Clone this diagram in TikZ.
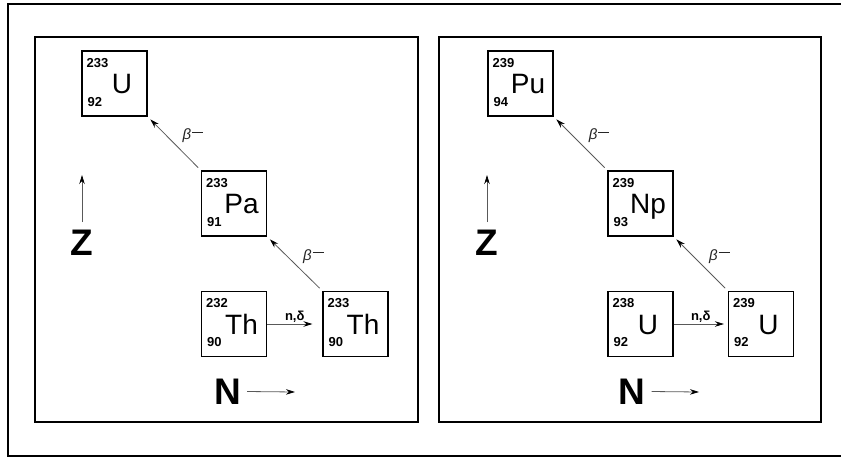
\documentclass[tikz,border=0pt]{standalone}
\usepackage{fontspec}
\setmainfont{Liberation Sans}
\usetikzlibrary{arrows.meta}
\newcommand{\nucl}[6]{% name, x, y, A, Z, symbol
  \node[nbox] (#1) at (#2,#3) {};
  \node[numtxt] (#1-a) at ([xshift=5pt,yshift=-17pt]#1.north west) {#4};
  \node[numtxt] (#1-z) at ([xshift=6pt,yshift=-56pt]#1.north west) {#5};
  \node[symtxt] (#1-s) at ([xshift=7.5pt,yshift=-43.5pt]#1.north) {#6};
}
\newcommand{\betaminus}{{\itshape β}\hspace{1pt}\rule[7pt]{11pt}{1.3pt}}
\begin{document}
\begin{tikzpicture}[x=1pt,y=-1pt,
  nbox/.style={draw, line width=1.1pt, minimum size=65pt, inner sep=0pt},
  numtxt/.style={anchor=base west, inner sep=0pt, font=\bfseries\fontsize{13}{13}\selectfont},
  symtxt/.style={anchor=base, inner sep=0pt, font=\fontsize{28}{28}\selectfont},
  arr/.style={line width=0.8pt, draw=black!65, -{Stealth[length=9pt,width=5.5pt,color=black]}},
  panel/.style={draw, line width=1.2pt},
  axlbl/.style={font=\bfseries\fontsize{37}{37}\selectfont, inner sep=0pt},
  reac/.style={font=\bfseries\fontsize{13}{13}\selectfont, inner sep=1.5pt},
  beta/.style={font=\fontsize{15}{15}\selectfont, inner sep=0pt, text=black!85}]
\useasboundingbox (0,0) rectangle (841,459);
\clip (0,0) rectangle (841,459);
\draw[line width=2.4pt] (8,4) rectangle (860,456);
\draw[panel] (35,37) rectangle (418,422);
\draw[panel] (439,37) rectangle (821,422);

% left panel
\nucl{uA}{114.5}{83.5}{233}{92}{U}
\nucl{pa}{234}{203.5}{233}{91}{Pa}
\nucl{thA}{234}{324}{232}{90}{Th}
\nucl{thB}{355.5}{324}{233}{90}{Th}
\draw[arr, shorten >=10pt] (thA.east) -- node[reac, above] {n,δ} (thB.west);
\draw[arr, shorten <=4pt, shorten >=4pt] (thB.north west) -- node[beta, pos=0.5, anchor=south west, xshift=8pt] {\betaminus} (pa.south east);
\draw[arr, shorten <=4pt, shorten >=4pt] (pa.north west) -- node[beta, pos=0.5, anchor=south west, xshift=8pt] {\betaminus} (uA.south east);
\coordinate (zA0) at (82,222);
\coordinate (zA1) at (82,175);
\draw[arr] (zA0) -- (zA1);
\node[axlbl] (zA) at (82,243) {Z};
\node[axlbl] (nA) at (227.5,391.5) {N};
\coordinate (nA1) at (295,392);
\draw[arr] ([xshift=6pt]nA.east) -- (nA1);

% right panel
\nucl{pu}{520.5}{83.5}{239}{94}{Pu}
\nucl{np}{640.5}{203.5}{239}{93}{Np}
\nucl{uB}{640.5}{324}{238}{92}{U}
\nucl{uC}{761}{324}{239}{92}{U}
\draw[arr, shorten >=4pt] (uB.east) -- node[reac, above] {n,δ} (uC.west);
\draw[arr, shorten <=4pt, shorten >=4pt] (uC.north west) -- node[beta, pos=0.5, anchor=south west, xshift=8pt] {\betaminus} (np.south east);
\draw[arr, shorten <=4pt, shorten >=4pt] (np.north west) -- node[beta, pos=0.5, anchor=south west, xshift=8pt] {\betaminus} (pu.south east);
\coordinate (zB0) at (487,222);
\coordinate (zB1) at (487,175);
\draw[arr] (zB0) -- (zB1);
\node[axlbl] (zB) at (487,243) {Z};
\node[axlbl] (nB) at (632,391.5) {N};
\coordinate (nB1) at (699,392);
\draw[arr] ([xshift=6pt]nB.east) -- (nB1);
\end{tikzpicture}
\end{document}
